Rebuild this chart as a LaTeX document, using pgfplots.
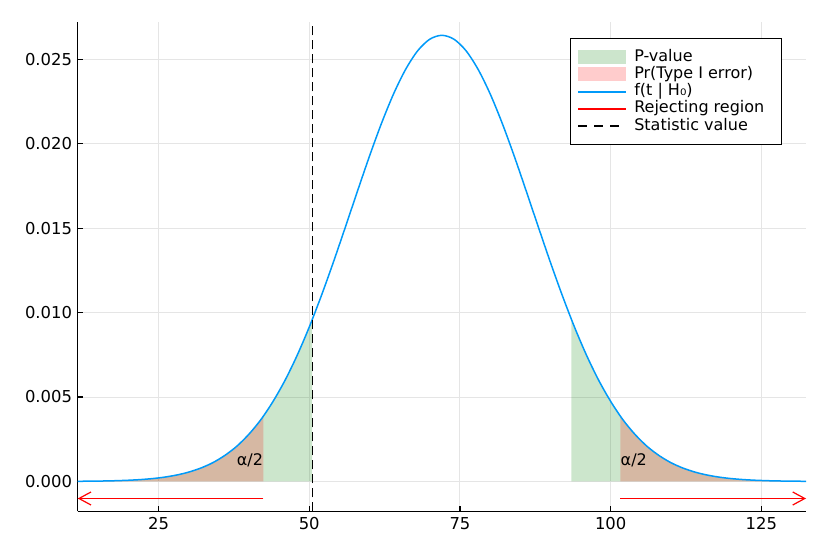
\documentclass[border=0pt]{standalone}
\usepackage{fontspec}
\setmainfont{DejaVu Sans}
\usepackage{pgfplots}
\pgfplotsset{compat=1.18}
\usetikzlibrary{arrows.meta}
\definecolor{pvgreen}{RGB}{0,128,0}
\definecolor{curveblue}{HTML}{009AF9}
\begin{document}
\fontsize{8}{9.6}\selectfont
\begin{tikzpicture}
\begin{axis}[
scale only axis,width=364pt,height=244.5pt,
xmin=11.6,xmax=132.4,ymin=-0.00178,ymax=0.02719,
clip=false,
axis lines=left,axis line style={-,line width=0.6pt},
tick align=inside,major tick length=2.5pt,tick style={black,line width=0.6pt},
xtick={25,50,75,100,125},
ytick={0,0.005,0.01,0.015,0.02,0.025},
scaled y ticks=false,
yticklabel style={/pgf/number format/.cd,fixed,fixed zerofill,precision=3},
/pgf/number format/assume math mode=true,
xmajorgrids=true,ymajorgrids=true,grid style={black!10,line width=0.5pt},
tick label style={font=\fontsize{8.2}{9.8}\selectfont},
legend style={at={(0.967,0.968)},anchor=north east,draw=black,line width=0.6pt,
  font=\fontsize{8}{9.6}\selectfont,inner xsep=3.5pt,inner ysep=5pt,column sep=2.5pt,
  nodes={inner xsep=1pt,inner ysep=0.4pt,text height=6pt,text depth=1.8pt}},
legend cell align=left,
area/.style={draw=none,fill opacity=0.2,
  legend image code/.code={\path[##1] (0pt,-3.5pt) rectangle (24pt,3.5pt);}}
]
% P-value tails
\addplot[area,fill=pvgreen] coordinates {(11.6,0) (11.6,0.0000089) (12,0.0000099) (14,0.0000165) (16,0.0000273) (18,0.0000442) (20,0.0000703) (22,0.000110) (24,0.000169) (26,0.000255) (28,0.000379) (30,0.000552) (32,0.000791) (34,0.00111) (36,0.00154) (38,0.00209) (40,0.00280) (42,0.00367) (44,0.00474) (46,0.00600) (48,0.00747) (50,0.00914) (50.5,0.009588) (50.5,0)};
\addlegendentry{P-value}
\addplot[area,fill=pvgreen,forget plot] coordinates {(93.5,0) (93.5,0.009588) (94,0.00914) (96,0.00747) (98,0.00600) (100,0.00474) (102,0.00367) (104,0.00280) (106,0.00209) (108,0.00154) (110,0.00111) (112,0.000791) (114,0.000552) (116,0.000379) (118,0.000255) (120,0.000169) (122,0.000110) (124,0.0000703) (126,0.0000442) (128,0.0000273) (130,0.0000165) (132,0.0000099) (132.4,0.0000089) (132.4,0)};
% Type I error tails
\addplot[area,fill=red] coordinates {(11.6,0) (11.6,0.0000089) (12,0.0000099) (14,0.0000165) (16,0.0000273) (18,0.0000442) (20,0.0000703) (22,0.000110) (24,0.000169) (26,0.000255) (28,0.000379) (30,0.000552) (32,0.000791) (34,0.00111) (36,0.00154) (38,0.00209) (40,0.00280) (42,0.00367) (42.4,0.003868) (42.4,0)};
\addlegendentry{Pr(Type I error)}
\addplot[area,fill=red,forget plot] coordinates {(101.6,0) (101.6,0.003868) (102,0.00367) (104,0.00280) (106,0.00209) (108,0.00154) (110,0.00111) (112,0.000791) (114,0.000552) (116,0.000379) (118,0.000255) (120,0.000169) (122,0.000110) (124,0.0000703) (126,0.0000442) (128,0.0000273) (130,0.0000165) (132,0.0000099) (132.4,0.0000089) (132.4,0)};
% density under H0
\addplot[curveblue,line width=0.75pt,smooth,
  legend image code/.code={\draw[curveblue,line width=1pt,-] (0pt,0pt) -- (24pt,0pt);}]
  coordinates {(11.6,0.0000089) (12,0.0000099) (14,0.0000165) (16,0.0000273) (18,0.0000442) (20,0.0000703) (22,0.000110) (24,0.000169) (26,0.000255) (28,0.000379) (30,0.000552) (32,0.000791) (34,0.00111) (36,0.00154) (38,0.00209) (40,0.00280) (42,0.00367) (44,0.00474) (46,0.00600) (48,0.00747) (50,0.00914) (52,0.01099) (54,0.01298) (56,0.01507) (58,0.01719) (60,0.01927) (62,0.02122) (64,0.02296) (66,0.02441) (68,0.02551) (70,0.02619) (72,0.02642) (74,0.02619) (76,0.02551) (78,0.02441) (80,0.02296) (82,0.02122) (84,0.01927) (86,0.01719) (88,0.01507) (90,0.01298) (92,0.01099) (94,0.00914) (96,0.00747) (98,0.00600) (100,0.00474) (102,0.00367) (104,0.00280) (106,0.00209) (108,0.00154) (110,0.00111) (112,0.000791) (114,0.000552) (116,0.000379) (118,0.000255) (120,0.000169) (122,0.000110) (124,0.0000703) (126,0.0000442) (128,0.0000273) (130,0.0000165) (132,0.0000099) (132.4,0.0000089)};
\addlegendentry{f(t | H₀)}
% rejecting region arrows
\addplot[red,line width=0.6pt,-{Straight Barb[length=6pt,width=6.5pt]},
  legend image code/.code={\draw[red,line width=1pt,-] (0pt,0pt) -- (24pt,0pt);}]
  coordinates {(42.4,-0.00101) (11.6,-0.00101)};
\addlegendentry{Rejecting region\kern4pt}
\addplot[red,line width=0.6pt,-{Straight Barb[length=6pt,width=6.5pt]},forget plot]
  coordinates {(101.6,-0.00101) (132.4,-0.00101)};
% statistic
\addplot[black,line width=0.6pt,dash pattern=on 4.5pt off 2.5pt,
  legend image code/.code={\draw[black,line width=0.6pt,dash pattern=on 4.5pt off 3.5pt] (0pt,0pt) -- (24pt,0pt);}]
  coordinates {(50.5,-0.00178) (50.5,0.02719)};
\addlegendentry{Statistic value}
\node[anchor=east,inner sep=0pt] at (axis cs:42.4,0.00126) {α/2};
\node[anchor=west,inner sep=0pt] at (axis cs:101.6,0.00126) {α/2};
\end{axis}
\path (current axis.south west) ++(-38.85pt,-18.35pt);
\path (current axis.north east) ++(6pt,11.15pt);
\end{tikzpicture}
\end{document}
